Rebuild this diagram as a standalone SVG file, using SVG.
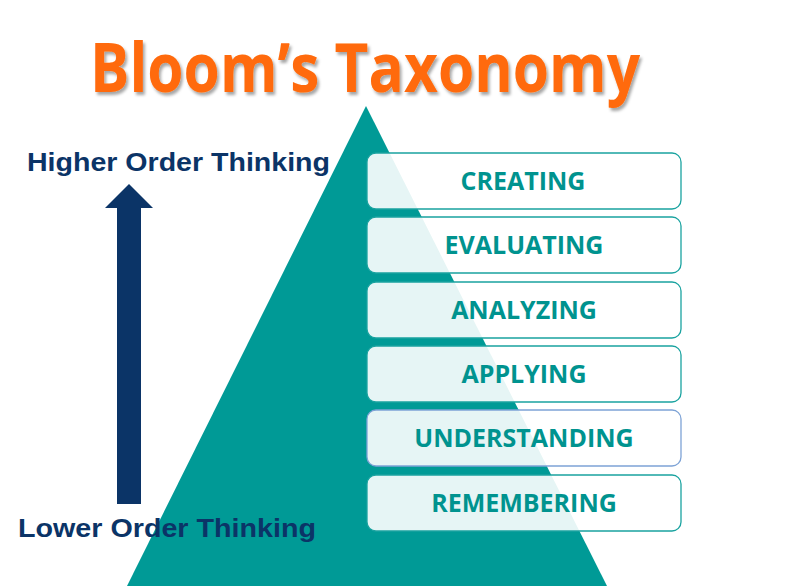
<svg xmlns="http://www.w3.org/2000/svg" width="800" height="588" viewBox="0 0 800 588">
<defs>
<style>
.box{fill:#ffffff;fill-opacity:0.9;stroke:#1aa3a0;stroke-width:1.3}
.lbl{font-family:"Open Sans","Liberation Sans",sans-serif;font-weight:bold;font-size:25px;fill:#00938f;text-anchor:middle}
.side{font-family:"Liberation Sans",Arial,sans-serif;font-weight:bold;font-size:25px;fill:#0b3467}
</style>
<filter id="sh" x="-5%" y="-5%" width="110%" height="120%">
<feDropShadow dx="2" dy="3" stdDeviation="1.5" flood-color="#000" flood-opacity="0.35"/>
</filter>
</defs>
<rect width="800" height="588" fill="#ffffff"/>
<text x="365" y="92" text-anchor="middle" font-family="Open Sans,Liberation Sans,sans-serif" font-weight="bold" font-size="68" fill="#ff6a0a" filter="url(#sh)" textLength="550" lengthAdjust="spacingAndGlyphs">Bloom’s Taxonomy</text>
<g id="pyramid">
<polygon points="366,106 127,586 607,586" fill="#009a96"/>
</g>
<g id="arrow">
<polygon points="129,184 153,208 141,208 141,504 117,504 117,208 105,208" fill="#0b3467"/>
</g>
<g id="higher"><text class="side" x="27" y="171" textLength="303" lengthAdjust="spacingAndGlyphs">Higher Order Thinking</text></g>
<g id="lower"><text class="side" x="18" y="537" textLength="298" lengthAdjust="spacingAndGlyphs">Lower Order Thinking</text></g>
<g id="creating"><rect class="box" x="367" y="153" width="314" height="56" rx="9"/><text class="lbl" x="523" y="190">CREATING</text></g>
<g id="evaluating"><rect class="box" x="367" y="217" width="314" height="56" rx="9"/><text class="lbl" x="524" y="254">EVALUATING</text></g>
<g id="analyzing"><rect class="box" x="367" y="282" width="314" height="56" rx="9"/><text class="lbl" x="524" y="319">ANALYZING</text></g>
<g id="applying"><rect class="box" x="367" y="346" width="314" height="56" rx="9"/><text class="lbl" x="524" y="383">APPLYING</text></g>
<g id="understanding"><rect class="box" x="367" y="410" width="314" height="56" rx="9" style="stroke:#7ea3d6"/><text class="lbl" x="524" y="447">UNDERSTANDING</text></g>
<g id="remembering"><rect class="box" x="367" y="475" width="314" height="56" rx="9"/><text class="lbl" x="524" y="512">REMEMBERING</text></g>
</svg>
